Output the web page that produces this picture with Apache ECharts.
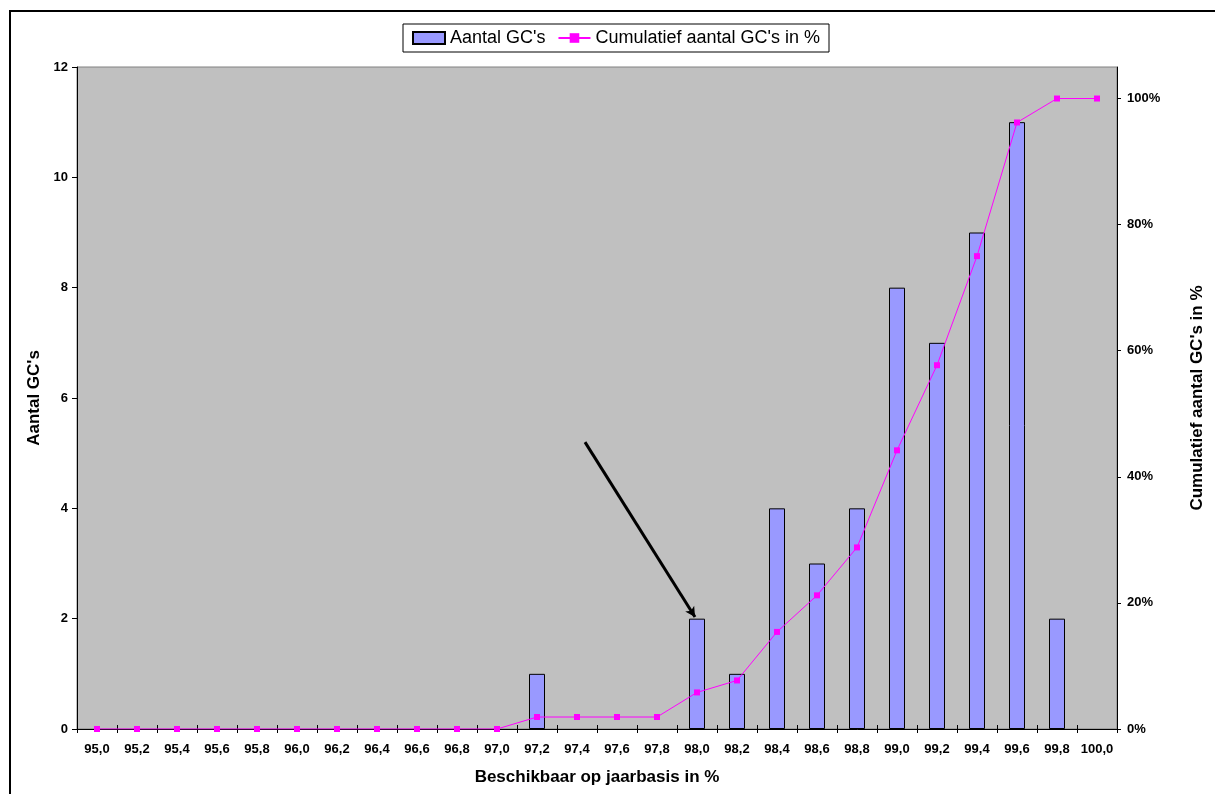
<!DOCTYPE html>
<html>
<head>
<meta charset="utf-8">
<script src="https://cdn.jsdelivr.net/npm/echarts@6/dist/echarts.min.js"></script>
<style>
  html, body { margin: 0; padding: 0; background: #fff; }
  #frame {
    position: absolute; left: 9px; top: 10px; width: 1300px; height: 900px;
    border-left: 2px solid #000; border-top: 2px solid #000;
  }
  #chart { position: absolute; left: 0; top: 0; width: 1215px; height: 794px; }
</style>
</head>
<body>
<div id="frame"></div>
<div id="chart"></div>
<script>
const categories = ['95,0', '95,2', '95,4', '95,6', '95,8', '96,0', '96,2', '96,4', '96,6', '96,8',
  '97,0', '97,2', '97,4', '97,6', '97,8', '98,0', '98,2', '98,4', '98,6', '98,8',
  '99,0', '99,2', '99,4', '99,6', '99,8', '100,0'];
const aantal = [0, 0, 0, 0, 0, 0, 0, 0, 0, 0, 0, 1, 0, 0, 0, 2, 1, 4, 3, 4, 8, 7, 9, 11, 2, 0];
const cumulatief = [0, 0, 0, 0, 0, 0, 0, 0, 0, 0, 0, 1.9, 1.9, 1.9, 1.9, 5.8, 7.7, 15.4, 21.2, 28.8,
  44.2, 57.7, 75.0, 96.2, 100, 100];
const leftTicks = [0, 2, 4, 6, 8, 10, 12];
const rightTicks = [0, 20, 40, 60, 80, 100];
// arrow annotation, in category index / left axis units
const arrowFrom = [12.2, 5.2];
const arrowTo = [14.95, 2.03];

const font = 'Liberation Sans, Arial, sans-serif';
const chart = echarts.init(document.getElementById('chart'));

// empty categories get no bar (otherwise the border draws a flat line)
const barData = aantal.map(v => (v === 0 ? null : v));

chart.setOption({
  animation: false,
  textStyle: { fontFamily: font, color: '#000' },
  legend: {
    left: 403,
    top: 24,
    padding: [5, 9, 5, 9],
    itemGap: 12,
    itemWidth: 32,
    itemHeight: 12,
    borderColor: '#000',
    borderWidth: 1,
    backgroundColor: '#fff',
    textStyle: { fontFamily: font, fontSize: 18, color: '#000' },
    data: [{ name: "Aantal GC's", icon: 'rect' }, { name: "Cumulatief aantal GC's in %" }]
  },
  grid: {
    left: 77, right: 98, top: 67, bottom: 65,
    show: true, backgroundColor: '#C0C0C0', borderColor: '#808080', borderWidth: 1
  },
  xAxis: [
    {
      type: 'category',
      data: categories,
      boundaryGap: true,
      name: 'Beschikbaar op jaarbasis in %',
      nameLocation: 'middle',
      nameGap: 40,
      nameTextStyle: { fontFamily: font, fontSize: 17, fontWeight: 'bold', color: '#000' },
      axisLine: { onZero: false, lineStyle: { color: '#000', width: 1 } },
      axisTick: { show: true, length: 4, lineStyle: { color: '#000' } },
      axisLabel: { interval: 0, margin: 14, fontFamily: font, fontSize: 13, fontWeight: 'bold', color: '#000' }
    },
    {
      type: 'category',
      data: categories,
      position: 'bottom',
      axisLine: { show: false, onZero: false },
      axisTick: { show: true, inside: true, length: 4, lineStyle: { color: '#000' } },
      axisLabel: { show: false }
    },
    {
      type: 'value',
      min: -0.5,
      max: 25.5,
      show: false,
      axisLine: { onZero: false }
    }
  ],
  yAxis: [
    {
      type: 'value',
      min: 0, max: 12, interval: 2,
      name: "Aantal GC's",
      nameLocation: 'middle',
      nameGap: 32,
      nameTextStyle: { fontFamily: font, fontSize: 17, fontWeight: 'bold', color: '#000' },
      axisLine: { show: true, onZero: false, lineStyle: { color: '#000', width: 1 } },
      axisTick: { show: true, length: 5, lineStyle: { color: '#000' }, customValues: leftTicks },
      axisLabel: { margin: 9, fontFamily: font, fontSize: 13, fontWeight: 'bold', color: '#000', customValues: leftTicks },
      splitLine: { show: false }
    },
    {
      type: 'value',
      min: 0, max: 105,
      position: 'right',
      name: "Cumulatief aantal GC's in %",
      nameLocation: 'middle',
      nameGap: 72,
      nameTextStyle: { fontFamily: font, fontSize: 17, fontWeight: 'bold', color: '#000' },
      axisLine: { show: true, onZero: false, lineStyle: { color: '#000', width: 1 } },
      axisTick: { show: true, length: 4, lineStyle: { color: '#000' }, customValues: rightTicks },
      axisLabel: {
        margin: 10, fontFamily: font, fontSize: 13, fontWeight: 'bold', color: '#000',
        customValues: rightTicks, formatter: v => v + '%'
      },
      splitLine: { show: false }
    }
  ],
  series: [
    {
      name: "Aantal GC's",
      type: 'bar',
      xAxisIndex: 0,
      yAxisIndex: 0,
      barWidth: 16,
      data: barData,
      itemStyle: { color: '#9999FF', borderColor: '#000', borderWidth: 1 }
    },
    {
      name: "Cumulatief aantal GC's in %",
      type: 'line',
      xAxisIndex: 0,
      yAxisIndex: 1,
      data: cumulatief,
      symbol: 'rect',
      symbolSize: 6,
      lineStyle: { color: '#FF00FF', width: 1 },
      itemStyle: { color: '#FF00FF' }
    },
    {
      name: 'arrow',
      type: 'line',
      xAxisIndex: 2,
      yAxisIndex: 0,
      data: [arrowFrom, arrowTo],
      symbol: 'none',
      lineStyle: { opacity: 0 },
      silent: true,
      markLine: {
        silent: true,
        symbol: ['none', 'arrow'],
        symbolSize: [8, 10],
        label: { show: false },
        lineStyle: { color: '#000', width: 3, type: 'solid' },
        data: [[{ coord: arrowFrom }, { coord: arrowTo }]]
      }
    }
  ]
});
</script>
</body>
</html>
